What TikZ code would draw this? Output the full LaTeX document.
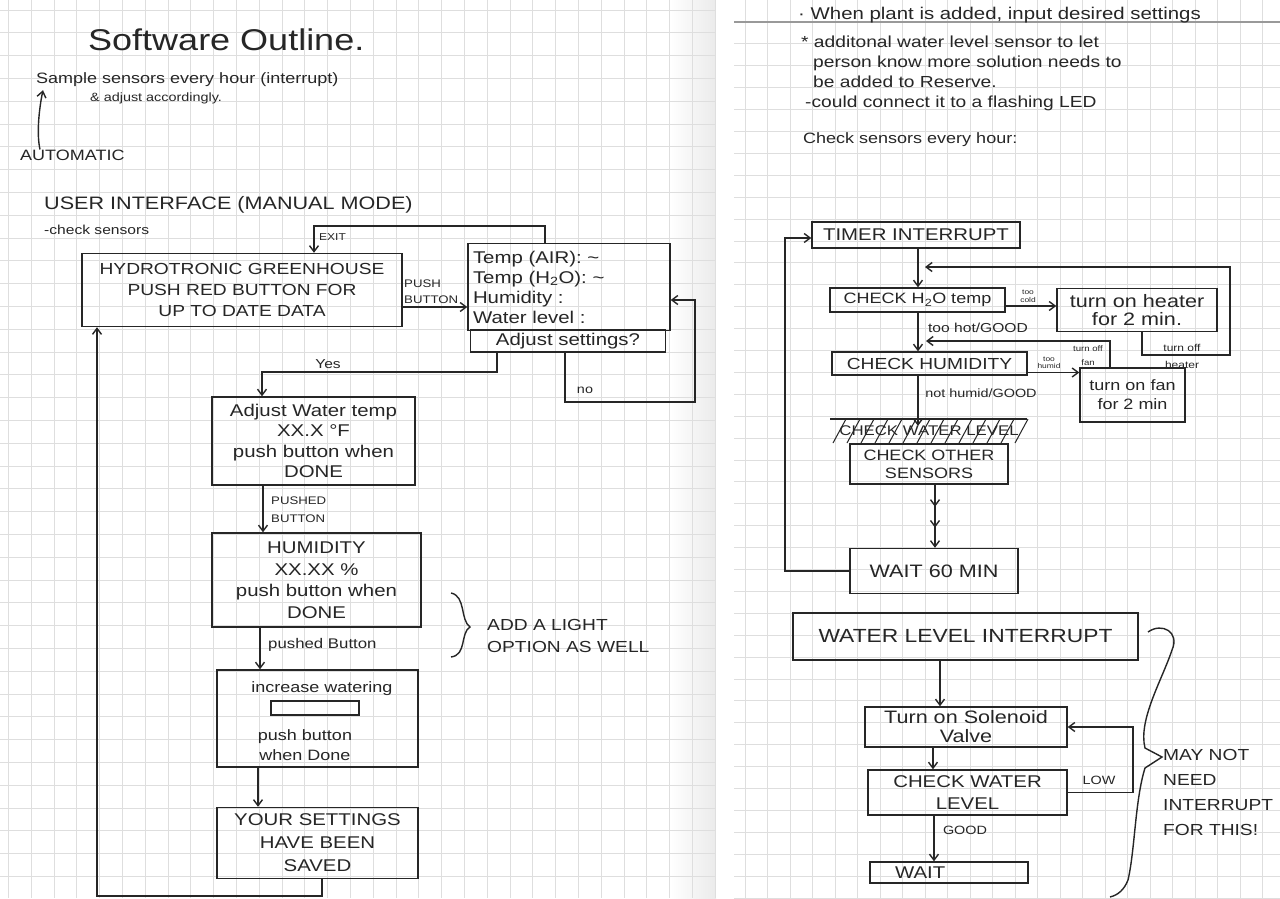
\documentclass[tikz,border=0pt]{standalone}
\usepackage{fontspec}
\setmainfont{Liberation Sans}[FakeStretch=1.2]
\usetikzlibrary{arrows.meta,decorations.markings}

\definecolor{inkc}{HTML}{262626}
\definecolor{gridc}{HTML}{DEDEDE}
\newcommand\fsz[2]{\fontsize{#1}{#2}\selectfont}

\tikzset{
	ink/.style={draw=inkc, line width=1.4pt},
	box/.style={ink, inner sep=1pt, align=center, text=inkc},
	note/.style={inner sep=0pt, text=inkc},
	lbl/.style={inner sep=0pt, text=inkc, align=center},
	arr/.style={ink, -{Straight Barb[length=6pt,width=9pt]}},
	midarr/.style={postaction={decorate}, decoration={markings,
		mark=at position 0.35 with {\arrow{Straight Barb[length=6pt,width=9pt]}},
		mark=at position 0.68 with {\arrow{Straight Barb[length=6pt,width=9pt]}}}},
	gridline/.style={draw=gridc, line width=0.9pt},
}

\begin{document}
\begin{tikzpicture}[x=1pt, y=-1pt]
	\useasboundingbox (0,0) rectangle (1280,898);
	\fill[white] (0,0) rectangle (1280,898);

	% paper
	\shade[left color=white, right color=black!8] (670,0) rectangle (716,898);
	\foreach \gx in {0,...,31}
		\draw[gridline] ({8.5+22.8*\gx},0) -- ({8.5+22.8*\gx},898);
	\foreach \gy in {0,...,39}
		\draw[gridline] (0,{10+22.8*\gy}) -- (716,{10+22.8*\gy});
	\foreach \gx in {0,...,23}
		\draw[gridline] ({745+22.5*\gx},0) -- ({745+22.5*\gx},898);
	\foreach \gy in {1,...,40}
		\draw[gridline] (734,{22+21.9*\gy}) -- (1280,{22+21.9*\gy});
	\draw[draw=black!40, line width=1.2pt] (734,22) -- (1280,22);
	\fill[white] (716,0) rectangle (734,898);

	% left page
	\node[note, anchor=west, font=\fsz{30}{36}] (title) at (88,40) {Software Outline.};
	\node[note, anchor=west, font=\fsz{15}{18}] (sample) at (36,80) {Sample sensors every hour (interrupt)};
	\node[note, anchor=west, font=\fsz{12}{14}] (adjacc) at (90,98) {\& adjust accordingly.};
	\node[note, anchor=west, font=\fsz{15}{18}] (auto) at (20,155) {AUTOMATIC};
	\draw[arr] ([xshift=20pt]auto.north west) .. controls +(-4,-18) and +(-3,14) .. ([xshift=7pt,yshift=-3pt]sample.south west);
	\node[note, anchor=west, font=\fsz{18}{20}] (ui) at (44,205) {USER INTERFACE (MANUAL MODE)};
	\node[note, anchor=west, font=\fsz{13}{16}] (chk) at (44,230) {-check sensors};

	\node[box, minimum width=320pt, minimum height=73pt, font=\fsz{16}{21}] (hydro) at (242,290) {HYDROTRONIC GREENHOUSE\\PUSH RED BUTTON FOR\\UP TO DATE DATA};
	\node[box, minimum width=202pt, minimum height=87pt, text width=192pt, align=left, font=\fsz{17}{20}] (temp) at (569,287) {Temp (AIR): \textasciitilde\\Temp (H\textsubscript{2}O): \textasciitilde\\Humidity :\\Water level :};
	\node[box, minimum width=195pt, minimum height=22pt, inner sep=0pt, font=\fsz{17}{20}] (adj) at (568,341) {Adjust settings?};

	\node[lbl, anchor=south west, align=left, font=\fsz{11}{16}] (pushlbl) at (404,304) {PUSH\\BUTTON};
	\draw[arr] ([yshift=-17pt]hydro.east) -- ([yshift=-17pt]hydro.east -| temp.west);
	\draw[arr] ([xshift=-24pt]temp.north) -- ++(0,-17) -| ([xshift=72pt]hydro.north);
	\node[lbl, anchor=west, font=\fsz{10}{12}] (exitlbl) at (319,237) {EXIT};

	\node[box, minimum width=203pt, minimum height=88pt, font=\fsz{17}{20.5}] (awt) at (313.5,441) {Adjust Water temp\\XX.X °F\\push button when\\DONE};
	\node[box, minimum width=209pt, minimum height=94pt, font=\fsz{17}{21.5}] (hum) at (316.5,580) {HUMIDITY\\XX.XX \%\\push button when\\DONE};
	\node[box, minimum width=201pt, minimum height=97pt] (inc) at (317.5,718.5) {};
	\node[lbl, font=\fsz{15}{18}] (inctop) at (322,689) {increase watering};
	\node[ink, minimum width=88pt, minimum height=14pt, inner sep=0pt] (slider) at (315,708) {};
	\node[lbl, font=\fsz{15}{20}] (incbot) at (305,745) {push button\\when Done};
	\node[box, minimum width=201pt, minimum height=71pt, font=\fsz{17}{23}] (saved) at (317.5,843) {YOUR SETTINGS\\HAVE BEEN\\SAVED};

	\coordinate (yescorner) at (262,372);
	\draw[arr] ([xshift=-71pt]adj.south) |- (yescorner) -- ([xshift=-51.5pt]awt.north);
	\node[lbl, font=\fsz{13}{15}] (yeslbl) at (328,364) {Yes};
	\coordinate (nocorner) at (695,402);
	\draw[arr] ([xshift=-3pt]adj.south) |- (nocorner) |- ([yshift=-13pt]temp.east);
	\node[lbl, font=\fsz{12}{14}] (nolbl) at (585,390) {no};

	\draw[arr] ([xshift=-50.5pt]awt.south) -- ([xshift=-50.5pt]awt.south |- hum.north);
	\node[lbl, anchor=north west, align=left, font=\fsz{11}{18}] (pb1) at (271,497) {PUSHED\\BUTTON};
	\draw[arr] ([xshift=-56.5pt]hum.south) -- ([xshift=-56.5pt]hum.south |- inc.north);
	\node[lbl, anchor=west, font=\fsz{14}{16}] (pb2) at (268,645) {pushed Button};
	\draw[arr] ([xshift=-59.5pt]inc.south) -- ([xshift=-59.5pt]inc.south |- saved.north);

	\coordinate (backcorner) at (97,896);
	\draw[arr] ([xshift=4.5pt]saved.south) |- (backcorner) -- (backcorner |- hydro.south);

	\draw[ink] (451,593) .. controls (466,596) and (460,620) .. (470,627) .. controls (460,633) and (467,655) .. (451,657);
	\node[note, anchor=west, align=left, font=\fsz{16}{22}] (light) at (487,636) {ADD A LIGHT\\OPTION AS WELL};

	% right page
	\node[note, anchor=west, font=\fsz{17}{18}] (n1) at (798,15) {· When plant is added, input desired settings};
	\node[note, anchor=north west, align=left, font=\fsz{16}{20}] (n2) at (801,36) {* additonal water level sensor to let\\\hspace*{12pt}person know more solution needs to\\\hspace*{12pt}be added to Reserve.\\\hspace*{4pt}-could connect it to a flashing LED};
	\node[note, anchor=west, font=\fsz{15}{18}] (n3) at (803,140) {Check sensors every hour:};

	\node[box, minimum width=208pt, minimum height=26pt, inner sep=0pt, font=\fsz{17}{20}] (timer) at (916,235) {TIMER INTERRUPT};
	\node[box, minimum width=175pt, minimum height=24pt, inner sep=0pt, font=\fsz{15}{18}] (h2o) at (917.5,300) {CHECK H\textsubscript{2}O temp};
	\node[box, minimum width=160pt, minimum height=43pt, font=\fsz{18}{18}] (heater) at (1137,310) {turn on heater\\for 2 min.};
	\node[box, minimum width=195pt, minimum height=23pt, inner sep=0pt, font=\fsz{16}{18}] (hum2) at (929.5,363.5) {CHECK HUMIDITY};
	\node[box, minimum width=105pt, minimum height=54pt, font=\fsz{15}{19}] (fan) at (1132.5,395) {turn on fan\\for 2 min};
	\node[lbl, font=\fsz{14}{16}] (wlcross) at (929,431) {CHECK WATER LEVEL};
	\node[box, minimum width=158pt, minimum height=40pt, font=\fsz{15}{18}] (other) at (929,464) {CHECK OTHER\\SENSORS};
	\node[box, minimum width=168pt, minimum height=45pt, inner sep=0pt, font=\fsz{18}{20}] (wait60) at (934,571) {WAIT 60 MIN};

	\draw[ink] (830,419) -- (1027,419);
	\foreach \hx in {833,847,...,1015}
		\draw[ink, line width=1pt] (\hx,443) -- (\hx+13,419);

	\draw[arr] ([xshift=2pt]timer.south) -- ([xshift=2pt]timer.south |- h2o.north);
	\draw[arr] ([yshift=-6pt]h2o.east) -- ([yshift=-6pt]h2o.east -| heater.west);
	\node[lbl, font=\fsz{7}{8}] (coldlbl) at (1028,296) {too\\cold};
	\coordinate (hcorner) at (1230,355);
	\coordinate (hret) at (925,267);
	\draw[arr] ([xshift=5pt]heater.south) |- (hcorner) |- (hret);
	\node[lbl, font=\fsz{10}{17}] (hofflbl) at (1182,356) {turn off\\heater};
	\node[lbl, font=\fsz{13}{15}] (hotlbl) at (978,328) {too hot/GOOD};

	\draw[arr] ([xshift=0.5pt]h2o.south) -- ([xshift=0.5pt]h2o.south |- hum2.north);
	\draw[arr] ([yshift=-9pt]hum2.east) -- ([yshift=-9pt]hum2.east -| fan.west);
	\node[lbl, font=\fsz{7}{7.5}] (humidlbl) at (1049,363) {too\\humid};
	\coordinate (fcorner) at (1110,341);
	\coordinate (fret) at (926,341);
	\draw[arr] ([xshift=-22.5pt]fan.north) -- (fcorner) -- (fret);
	\node[lbl, font=\fsz{8}{14}] (fofflbl) at (1088,356) {turn off\\fan};
	\node[lbl, font=\fsz{12}{14}] (notlbl) at (981,393) {not humid/GOOD};

	\draw[arr] ([xshift=-11.5pt]hum2.south) -- ([xshift=-11.5pt]hum2.south |- wlcross.north);
	\draw[arr, midarr] ([xshift=6pt]other.south) -- ([xshift=1pt]wait60.north);
	\coordinate (tloop) at (785,571);
	\draw[arr] (wait60.west) -- (tloop) |- ([yshift=-3pt]timer.west);

	\node[box, minimum width=345pt, minimum height=47pt, inner sep=0pt, font=\fsz{19}{20}] (wli) at (965.5,636.5) {WATER LEVEL INTERRUPT};
	\node[box, minimum width=202pt, minimum height=40pt, font=\fsz{18}{19}] (sol) at (966,727) {Turn on Solenoid\\Valve};
	\node[box, minimum width=199pt, minimum height=45pt, font=\fsz{17}{22}] (cwl) at (967.5,792.5) {CHECK WATER\\LEVEL};
	\node[box, minimum width=158pt, minimum height=21pt, inner sep=0pt, text width=156pt, align=left, font=\fsz{17}{18}] (wait) at (949,872.5) {\hspace*{24pt}WAIT};

	\draw[arr] ([xshift=-25.5pt]wli.south) -- ([xshift=-25.5pt]wli.south |- sol.north);
	\draw[arr] ([xshift=-33pt]sol.south) -- ([xshift=-33pt]sol.south |- cwl.north);
	\coordinate (lowcorner) at (1133,792.5);
	\draw[arr] (cwl.east) -- (lowcorner) |- (sol.east);
	\node[lbl, font=\fsz{12}{14}] (lowlbl) at (1099,780) {LOW};
	\draw[arr] ([xshift=-33.5pt]cwl.south) -- ([xshift=-33.5pt]cwl.south |- wait.north);
	\node[lbl, font=\fsz{12}{14}] (goodlbl) at (965,830) {GOOD};

	\draw[ink] (1148,632) .. controls (1162,622) and (1180,632) .. (1172,650) .. controls (1162,680) and (1138,720) .. (1145,748) -- (1162,757) -- (1145,768) .. controls (1135,800) and (1135,850) .. (1128,880) .. controls (1124,890) and (1118,895) .. (1110,897);
	\node[note, anchor=north west, align=left, font=\fsz{16}{25}] (maynot) at (1163,749) {MAY NOT\\NEED\\INTERRUPT\\FOR THIS!};
\end{tikzpicture}
\end{document}
